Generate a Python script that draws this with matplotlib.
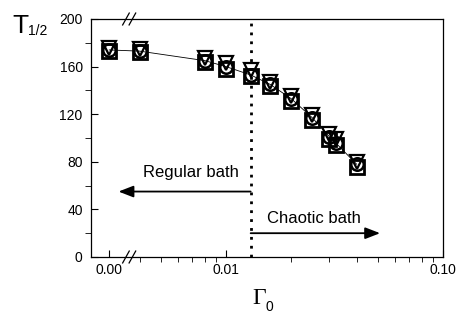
import matplotlib
matplotlib.use("Agg")
import matplotlib.pyplot as plt
from matplotlib.transforms import blended_transform_factory

plt.rcParams['font.family'] = ['Liberation Sans', 'DejaVu Sans']

# Gamma_0 values (0 is drawn at a stand-in position left of the axis break)
gamma = [0.0, 0.004, 0.008, 0.01, 0.013, 0.016, 0.02, 0.025, 0.03, 0.032, 0.04]
t_circle = [174, 173, 165, 160, 153, 145, 133, 117, 101, 96, 78]
t_square = [173, 172, 164, 158, 152, 144, 131, 115, 99, 94, 76]
t_tri = [176, 175, 167, 163, 157, 147, 135, 119, 103, 99, 80]
gamma_c = 0.013
zero_at = 0.0029   # where 0.00 sits on the log axis
break_at = 0.0035

xs = [zero_at if g == 0 else g for g in gamma]

fig = plt.figure(figsize=(4.59, 3.14), dpi=100)
ax = fig.add_axes([91/459, 1-257/314, (443-91)/459, (257-19)/314])
ax.set_xscale('log')
ax.set_xlim(0.00239, 0.1)
ax.set_ylim(0, 200)

ax.plot(xs, t_circle, color='black', lw=0.6, zorder=2)
ax.plot(xs, t_square, ls='none', marker='s', ms=10, mfc='none', mec='black', mew=2.0, zorder=3)
ax.plot(xs, t_circle, ls='none', marker='o', ms=9, mfc='none', mec='black', mew=1.8, zorder=3)
ax.plot(xs, t_tri, ls='none', marker='v', ms=10, mfc='none', mec='black', mew=1.6, zorder=3)

ax.axvline(gamma_c, color='black', lw=2, ls=(0, (1, 2.2)), zorder=1)

arrow = dict(arrowstyle='-|>,head_length=0.9,head_width=0.35', color='black', lw=1.3,
             shrinkA=0, shrinkB=0)
ax.annotate('', xy=(0.0032, 55), xytext=(gamma_c, 55), arrowprops=arrow)
ax.annotate('', xy=(0.0513, 20), xytext=(gamma_c, 20), arrowprops=arrow)
ax.text(0.01148, 71, 'Regular bath', fontsize=12, ha='right', va='center')
ax.text(0.01545, 32.5, 'Chaotic bath', fontsize=12, ha='left', va='center')

ax.set_xticks([zero_at, 0.01, 0.1])
ax.set_xticklabels(['0.00', '0.01', '0.10'])
ax.set_xticks([0.004, 0.005, 0.006, 0.007, 0.008, 0.009,
               0.02, 0.03, 0.04, 0.05, 0.06, 0.07, 0.08, 0.09], minor=True)
ax.set_xticklabels([], minor=True)
ax.set_yticks([0, 40, 80, 120, 160, 200])
ax.set_yticks([20, 60, 100, 140, 180], minor=True)
ax.tick_params(direction='in', labelsize=10, width=0.8)
ax.tick_params(axis='y', which='major', length=5, pad=6)
ax.tick_params(axis='y', which='minor', length=4)
ax.tick_params(axis='x', which='major', length=5, pad=4)
ax.tick_params(axis='x', which='minor', length=3.5)
for s in ax.spines.values():
    s.set_linewidth(0.9)

# axis break marks
tr = blended_transform_factory(ax.transData, ax.transAxes)
for yb in (0, 1):
    for dx in (0.99, 1.06):
        ax.plot([break_at * dx * 0.965, break_at * dx * 1.035], [yb - 0.025, yb + 0.025],
                transform=tr, color='black', lw=0.9, clip_on=False)

fig.text(12/459, 1-33/314, 'T', fontsize=19, va='baseline')
fig.text(28/459, 1-35/314, '1/2', fontsize=10, va='baseline')
fig.text(252/459, 1-304/314, '\u0393', fontsize=17, va='baseline', family='Liberation Serif')
fig.text(266/459, 1-311/314, '0', fontsize=10, va='baseline')

fig.savefig('out.png', dpi=100)
